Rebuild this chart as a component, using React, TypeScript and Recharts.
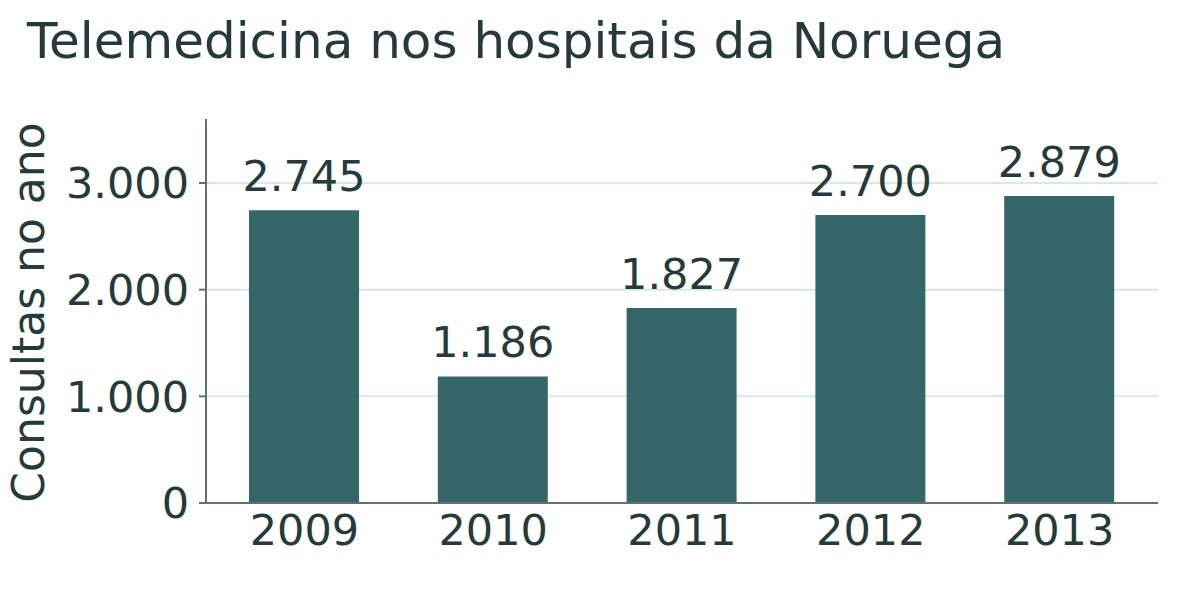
import { BarChart, Bar, XAxis, YAxis, CartesianGrid, LabelList } from 'recharts';

const years = ['2009', '2010', '2011', '2012', '2013'];
const consultas = [2745, 1186, 1827, 2700, 2879];
const yTicks = [0, 1000, 2000, 3000];
const gridLines = [1000, 2000, 3000];

const data = years.map((year, i) => ({ year, consultas: consultas[i] }));

const TEXT = '#263a3b';
const BAR = '#356668';
const AXIS = '#627070';
const GRID = '#d6e8ec';
const FONT = '"DejaVu Sans", sans-serif';

// 2745 -> "2.745" (separador de milhar)
const fmt = (v: number) => String(v).replace(/\B(?=(\d{3})+(?!\d))/g, '.');

const YLabel = (props: any) => {
  const vb = props.viewBox || { x: 0, y: 0, width: 0, height: 0 };
  const cx = 28;
  const cy = vb.y + vb.height / 2 + 1.5;
  return (
    <text
      x={cx}
      y={cy}
      transform={`rotate(-90 ${cx} ${cy})`}
      textAnchor="middle"
      dominantBaseline="central"
      fill={TEXT}
      fontSize={44}
      fontFamily={FONT}
    >
      Consultas no ano
    </text>
  );
};

export default function App() {
  return (
    <div style={{ position: 'absolute', left: 0, top: 0, width: 1200, height: 600, background: '#fff', fontFamily: FONT }}>
      <div style={{ position: 'absolute', left: 27, top: 11, fontSize: 50, color: TEXT, lineHeight: 1.2, whiteSpace: 'nowrap' }}>
        Telemedicina nos hospitais da Noruega
      </div>
      <BarChart
        width={1200}
        height={600}
        data={data}
        margin={{ top: 119, right: 42, bottom: 0, left: 0 }}
      >
        <CartesianGrid
          horizontal
          vertical={false}
          horizontalValues={gridLines}
          stroke={GRID}
          strokeWidth={2}
        />
        <XAxis
          dataKey="year"
          height={97}
          axisLine={{ stroke: AXIS, strokeWidth: 2 }}
          tickLine={false}
          tickSize={0}
          tickMargin={11}
          padding={{ left: 4, right: 4 }}
          tick={{ fill: TEXT, fontSize: 43, fontFamily: FONT }}
        />
        <YAxis
          width={206}
          domain={[0, 3600]}
          ticks={yTicks}
          allowDataOverflow
          tickFormatter={fmt}
          axisLine={{ stroke: AXIS, strokeWidth: 2 }}
          tickLine={{ stroke: AXIS, strokeWidth: 2 }}
          tickSize={7}
          tickMargin={10}
          tick={{ fill: TEXT, fontSize: 43, fontFamily: FONT }}
          label={<YLabel />}
        />
        <Bar dataKey="consultas" fill={BAR} barSize={110} isAnimationActive={false}>
          <LabelList
            dataKey="consultas"
            position="top"
            offset={19}
            formatter={(v: any) => fmt(Number(v))}
            fill={TEXT}
            fontSize={43}
            fontFamily={FONT}
          />
        </Bar>
      </BarChart>
    </div>
  );
}
